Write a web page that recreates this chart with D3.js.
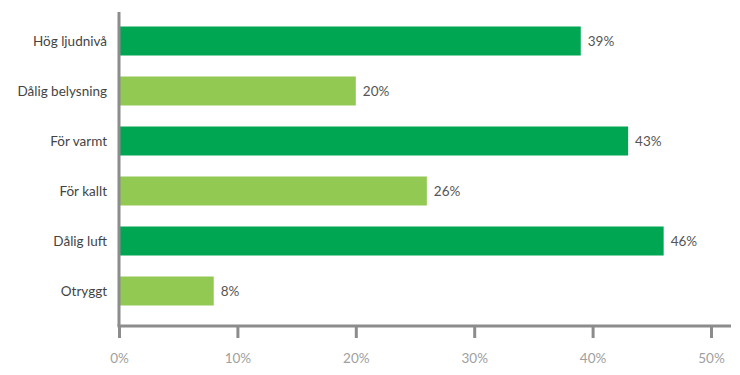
<!DOCTYPE html>
<html lang="sv">
<head>
  <meta charset="UTF-8">
  <style>
    body { margin: 0; background: #fff; }
    svg text { font-family: Lato, "Open Sans", sans-serif; }
  </style>
</head>
<body>
  <svg id="svg" width="740" height="375"></svg>

  <script src="https://d3js.org/d3.v7.min.js"></script>
  <script>
    // data
    const categories = ['Hög ljudnivå', 'Dålig belysning', 'För varmt', 'För kallt', 'Dålig luft', 'Otryggt']
    const values = [39, 20, 43, 26, 46, 8]
    const barColors = ['#00a651', '#92c952', '#00a651', '#92c952', '#00a651', '#92c952']
    const tickValues = [0, 10, 20, 30, 40, 50]

    const svg = d3.select('#svg')
    const margin = { top: 16, left: 119, bottom: 326 }

    // x scale
    const xscale = d3.scaleLinear()
      .domain([0, 50])
      .range([margin.left, 711])

    // y scale
    const yscale = d3.scaleBand()
      .domain(categories)
      .range([margin.top, margin.top + 300])
      .paddingInner(0.42)
      .paddingOuter(0.21)

    // bars
    svg.append('g')
      .selectAll('rect')
      .data(categories)
      .enter()
      .append('rect')
      .attr('x', xscale(0))
      .attr('y', d => yscale(d))
      .attr('width', (d, i) => xscale(values[i]) - xscale(0))
      .attr('height', yscale.bandwidth())
      .attr('fill', (d, i) => barColors[i])

    // value labels
    svg.append('g')
      .selectAll('text')
      .data(categories)
      .enter()
      .append('text')
      .attr('x', (d, i) => xscale(values[i]) + 7)
      .attr('y', d => yscale(d) + yscale.bandwidth() / 2)
      .attr('dy', '0.35em')
      .attr('font-size', 13.5)
      .attr('fill', '#555')
      .text((d, i) => values[i] + '%')

    // category labels
    svg.append('g')
      .selectAll('text')
      .data(categories)
      .enter()
      .append('text')
      .attr('x', 107)
      .attr('y', d => yscale(d) + yscale.bandwidth() / 2)
      .attr('dy', '0.35em')
      .attr('text-anchor', 'end')
      .attr('font-size', 13.5)
      .attr('fill', '#444')
      .text(d => d)

    // bottom axis
    const bottomAxis = d3.axisBottom(xscale)
      .tickValues(tickValues)
      .tickFormat(d => d + '%')
      .tickSize(12)
      .tickSizeOuter(0)
    const gx = svg.append('g')
      .attr('transform', `translate(0, ${margin.bottom})`)
      .call(bottomAxis)
    gx.select('.domain').remove()
    gx.selectAll('line').attr('stroke', '#8c8c8c').attr('stroke-width', 3)
    gx.selectAll('text')
      .attr('y', 27)
      .attr('font-size', 13.5)
      .attr('fill', '#a0a0a0')
    gx.append('line')
      .attr('x1', xscale(0) - 1.5)
      .attr('x2', 731)
      .attr('stroke', '#8c8c8c')
      .attr('stroke-width', 3)

    // left axis line
    svg.append('line')
      .attr('x1', xscale(0))
      .attr('x2', xscale(0))
      .attr('y1', 12)
      .attr('y2', margin.bottom)
      .attr('stroke', '#8c8c8c')
      .attr('stroke-width', 3)
  </script>
</body>
</html>
